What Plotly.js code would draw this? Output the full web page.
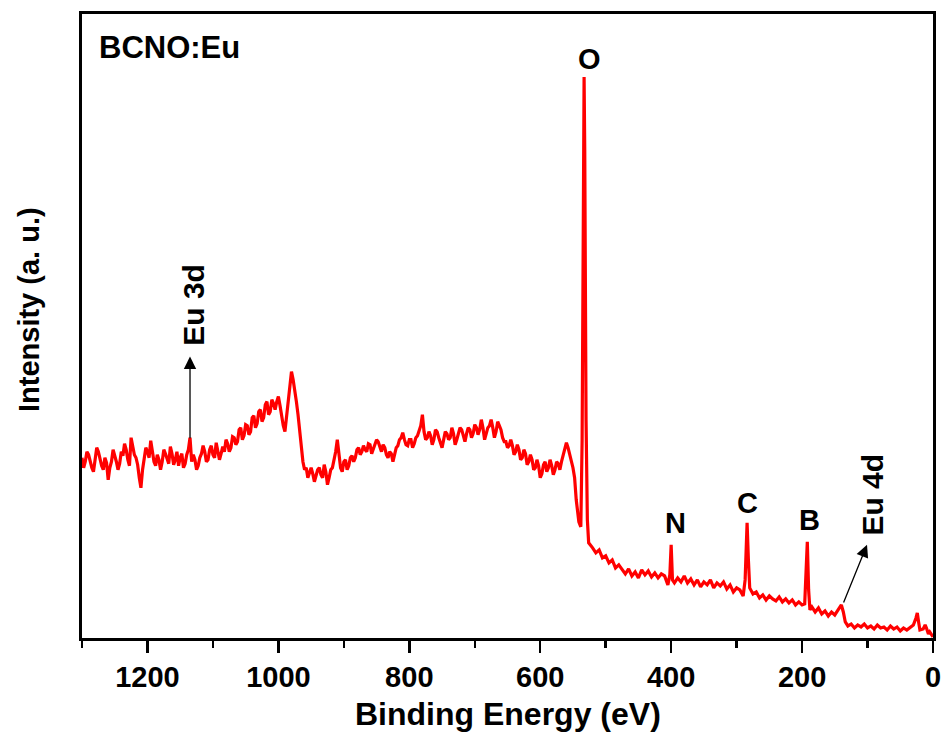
<!DOCTYPE html>
<html>
<head>
<meta charset="utf-8">
<script src="https://cdn.plot.ly/plotly-3.0.1.min.js"></script>
<style>
html,body{margin:0;padding:0;background:#fff;}
#chart{width:946px;height:736px;}
</style>
</head>
<body>
<div id="chart"></div>
<script>
// Binding energy (eV) and XPS survey intensity (a.u.)
const bindingEnergy = [
1300,1297.5,1295,1292.5,1290,1287.5,1285,1282.5,1280,1277.5,1275,1272.5,1270,1267.5,1265,1262.5,1260,1257.5,1255,1252.5,
1250,1247.5,1245,1242.5,1240,1237.5,1235,1232.5,1230,1227.5,1225,1222.5,1220,1217.5,1215,1212.5,1210,1207.5,1205,1202.5,
1200,1197.5,1195,1192.5,1190,1187.5,1185,1182.5,1180,1177.5,1175,1172.5,1170,1167.5,1165,1162.5,1160,1157.5,1155,1152.5,
1150,1147.5,1145,1142.5,1140,1137.5,1135,1132.5,1130,1127.5,1125,1122.5,1120,1117.5,1115,1112.5,1110,1107.5,1105,1102.5,
1100,1097.5,1095,1092.5,1090,1087.5,1085,1082.5,1080,1077.5,1075,1072.5,1070,1067.5,1065,1062.5,1060,1057.5,1055,1052.5,
1050,1047.5,1045,1042.5,1040,1037.5,1035,1032.5,1030,1027.5,1025,1022.5,1020,1017.5,1015,1012.5,1010,1007.5,1005,1002.5,
1000,997.5,995,992.5,990,987.5,985,982.5,980,977.5,975,972.5,970,967.5,965,962.5,960,957.5,955,952.5,
950,947.5,945,942.5,940,937.5,935,932.5,930,927.5,925,922.5,920,917.5,915,912.5,910,907.5,905,902.5,
900,897.5,895,892.5,890,887.5,885,882.5,880,877.5,875,872.5,870,867.5,865,862.5,860,857.5,855,852.5,
850,847.5,845,842.5,840,837.5,835,832.5,830,827.5,825,822.5,820,817.5,815,812.5,810,807.5,805,802.5,
800,797.5,795,792.5,790,787.5,785,782.5,780,777.5,775,772.5,770,767.5,765,762.5,760,757.5,755,752.5,
750,747.5,745,742.5,740,737.5,735,732.5,730,727.5,725,722.5,720,717.5,715,712.5,710,707.5,705,702.5,
700,697.5,695,692.5,690,687.5,685,682.5,680,677.5,675,672.5,670,667.5,665,662.5,660,657.5,655,652.5,
650,647.5,645,642.5,640,637.5,635,632.5,630,627.5,625,622.5,620,617.5,615,612.5,610,607.5,605,602.5,
600,597.5,595,592.5,590,587.5,585,582.5,580,577.5,575,572.5,570,567.5,565,562.5,560,557.5,555,552.5,
550,547.5,545,541,538,536,534,533,532,530,528,
526,520,515,510,505,500,495,490,485,480,475,470,465,460,455,450,445,440,435,430,
425,420,415,410,405,402,400,398,395,390,385,380,375,370,365,360,355,350,345,340,
335,330,325,320,315,310,305,300,295,290,287,284,282,280,275,270,265,260,255,250,
245,240,235,230,225,220,215,210,205,200,196,194,192,190,188,185,180,175,170,165,
160,155,150,145,140,137,134,130,125,120,115,110,105,100,95,90,85,80,75,70,
65,60,55,50,45,40,35,30,26,24,22,20,15,12,10,7,5,2,0
];
const intensity = [
180,170,176,186,183,175,170,166,178,190,186,178,172,168,180,175,158,170,176,188,
183,176,168,174,186,182,194,188,178,172,200,192,183,180,173,160,150,168,178,190,
186,180,197,186,176,172,183,178,168,176,188,184,178,174,191,184,173,178,186,172,
180,184,170,174,183,188,200,176,183,178,168,172,180,184,192,186,176,178,188,192,
183,180,195,188,178,184,191,186,198,194,186,190,201,200,193,196,208,210,198,202,
213,212,203,206,220,222,210,214,226,228,216,220,233,236,223,226,238,234,228,236,
241,232,220,212,206,220,233,250,266,258,248,236,223,206,188,176,168,170,160,164,
170,164,156,162,168,170,163,160,173,166,153,160,168,170,178,186,198,184,170,166,
176,178,168,172,180,182,176,180,188,190,183,186,192,188,186,194,193,184,188,192,
198,196,190,186,193,190,183,180,186,184,176,184,190,192,198,200,205,198,193,192,
198,198,190,194,200,202,208,212,223,206,198,200,206,202,193,198,208,206,200,196,
190,198,206,204,198,200,210,204,193,198,203,210,208,202,196,204,210,208,200,204,
213,210,203,208,218,210,198,204,210,212,218,210,200,206,216,212,208,200,196,196,
190,192,198,192,183,186,193,188,178,180,188,184,173,176,183,178,168,170,178,172,
160,164,173,176,166,170,178,172,163,168,176,174,168,176,183,190,195,190,183,178,
170,160,138,116,111,198,438,560,488,218,118,
95,90,85,88,80,82,75,78,70,73,68,64,69,62,66,60,68,63,67,61,
65,60,64,62,53,63,93,58,55,60,56,62,55,59,53,58,51,56,53,58,
50,55,52,56,49,53,46,50,48,42,58,115,78,50,44,46,40,43,38,42,
39,37,41,36,39,35,38,33,36,33,34,68,96,48,28,31,26,30,24,27,
22,26,23,28,33,26,16,12,14,10,13,11,14,10,12,9,13,10,11,8,
12,9,11,7,10,8,11,13,20,25,16,8,9,13,10,4,6,2,1
];
const xTickValues = [0,200,400,600,800,1000,1200];
const peakLabels = ["O","N","C","B"];
const peakLabelEnergy = [525,394,283,188];
const peakLabelIntensity = [578,115,135,118];
const sampleName = "BCNO:Eu";
const xTitle = "Binding Energy (eV)";
const yTitle = "Intensity (a. u.)";

const FONT = "Liberation Sans, Arial, Helvetica, sans-serif";

const trace = {
  x: bindingEnergy,
  y: intensity,
  type: "scatter",
  mode: "lines",
  line: {color: "#ff0000", width: 3.2},
  hoverinfo: "x+y",
  showlegend: false
};

const annotations = [];
for (let i = 0; i < peakLabels.length; i++) {
  annotations.push({
    x: peakLabelEnergy[i], y: peakLabelIntensity[i], xref: "x", yref: "y",
    text: "<b>" + peakLabels[i] + "</b>", showarrow: false,
    font: {family: FONT, size: 29, color: "#000"},
    xanchor: "center", yanchor: "middle"
  });
}
// Eu 3d label and arrow
annotations.push({
  x: 1130, y: 333, xref: "x", yref: "y", text: "<b>Eu 3d</b>", textangle: -90,
  showarrow: false, font: {family: FONT, size: 30, color: "#000"},
  xanchor: "center", yanchor: "middle"
});
annotations.push({
  x: 1135, y: 281, xref: "x", yref: "y", text: "",
  showarrow: true, axref: "x", ayref: "y", ax: 1135, ay: 198,
  arrowhead: 2, arrowsize: 1.9, arrowwidth: 1.3, arrowcolor: "#000", standoff: 0
});
// Eu 4d label and arrow
annotations.push({
  x: 92, y: 143, xref: "x", yref: "y", text: "<b>Eu 4d</b>", textangle: -90,
  showarrow: false, font: {family: FONT, size: 30, color: "#000"},
  xanchor: "center", yanchor: "middle"
});
annotations.push({
  x: 100.8, y: 93, xref: "x", yref: "y", text: "",
  showarrow: true, axref: "x", ayref: "y", ax: 137.5, ay: 34,
  arrowhead: 2, arrowsize: 1.9, arrowwidth: 1.3, arrowcolor: "#000", standoff: 0
});
// sample name
annotations.push({
  x: 0.0176, y: 0.947, xref: "paper", yref: "paper", text: "<b>" + sampleName + "</b>",
  showarrow: false, font: {family: FONT, size: 31, color: "#000"},
  xanchor: "left", yanchor: "middle"
});
// axis titles, placed where the reference has them
annotations.push({
  x: -0.062, y: 0.526, xref: "paper", yref: "paper", text: "<b>" + yTitle + "</b>", textangle: -90,
  showarrow: false, font: {family: FONT, size: 29, color: "#000"},
  xanchor: "center", yanchor: "middle"
});
annotations.push({
  x: 0.5, y: -0.121, xref: "paper", yref: "paper", text: "<b>" + xTitle + "</b>",
  showarrow: false, font: {family: FONT, size: 32, color: "#000"},
  xanchor: "center", yanchor: "middle"
});

const layout = {
  width: 946, height: 736,
  margin: {l: 82, r: 13, t: 14, b: 98},
  paper_bgcolor: "#ffffff",
  plot_bgcolor: "#ffffff",
  font: {family: FONT, color: "#000"},
  xaxis: {
    range: [1300, 0], autorange: false,
    tickvals: xTickValues,
    ticktext: xTickValues.map(v => "<b>" + v + "</b>"),
    ticks: "outside", ticklen: 12, tickwidth: 2.5, tickcolor: "#000",
    minor: {dtick: 100, tick0: 0, ticks: "outside", ticklen: 7, tickwidth: 2.5, tickcolor: "#000", showgrid: false},
    tickfont: {family: FONT, size: 29, color: "#000"},
    showline: true, linewidth: 2.6, linecolor: "#000", mirror: true,
    showgrid: false, zeroline: false
  },
  yaxis: {
    range: [0, 623], autorange: false,
    showticklabels: false, ticks: "",
    showline: true, linewidth: 2.6, linecolor: "#000", mirror: true,
    showgrid: false, zeroline: false
  },
  annotations: annotations,
  showlegend: false
};

Plotly.newPlot("chart", [trace], layout, {displayModeBar: false, staticPlot: true});
</script>
</body>
</html>
